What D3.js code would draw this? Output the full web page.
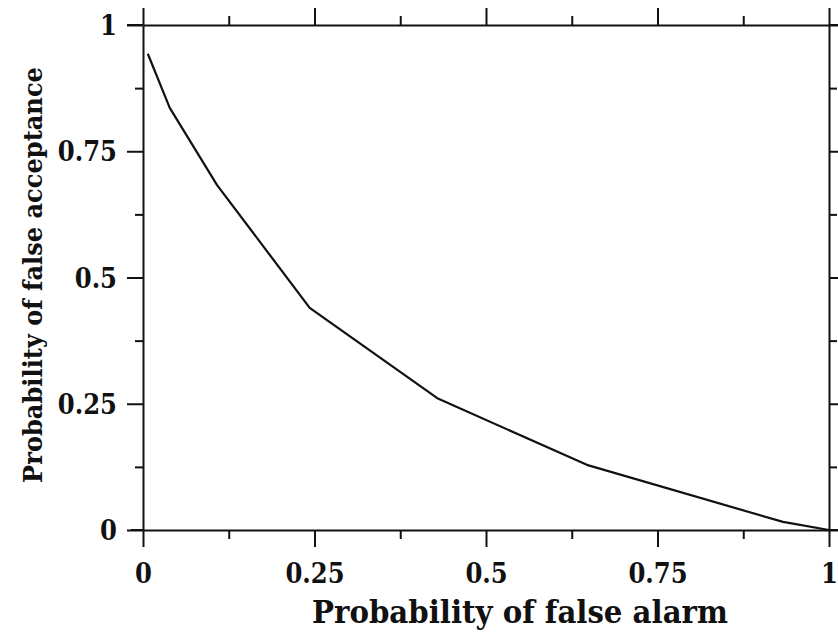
<!DOCTYPE html>
<html>
<head>
<meta charset="utf-8">
<script src="https://cdn.jsdelivr.net/npm/d3@7"></script>
<style>
  html, body { margin: 0; padding: 0; background: #fff; }
  svg { display: block; }
  .lbl { font-family: "DejaVu Serif", "Liberation Serif", serif; font-stretch: condensed; font-weight: bold; fill: #111; }
</style>
</head>
<body>
<svg id="chart" width="838" height="635"></svg>
<script>
// ROC-style trade-off: false alarm vs false acceptance
const falseAlarm      = [0.007, 0.039, 0.108, 0.243, 0.429, 0.647, 0.933, 1.000];
const falseAcceptance = [0.943, 0.836, 0.683, 0.440, 0.261, 0.129, 0.016, 0.000];

const majorTicks = [0, 0.25, 0.5, 0.75, 1];
const minorTicks = [0.125, 0.375, 0.625, 0.875];
const tickLabels = ["0", "0.25", "0.5", "0.75", "1"];

const xTitle = "Probability of false alarm";
const yTitle = "Probability of false acceptance";

const W = 838, H = 635;
const plot = { left: 143, right: 829, top: 25, bottom: 530 };

const svg = d3.select("#chart");
const x = d3.scaleLinear().domain([0, 1]).range([plot.left, plot.right]);
const y = d3.scaleLinear().domain([0, 1]).range([plot.bottom, plot.top]);

const fmt = v => tickLabels[majorTicks.indexOf(v)];

function styleAxis(g) {
  g.selectAll("path.domain").attr("stroke", "#111").attr("stroke-width", 2);
  g.selectAll(".tick line").attr("stroke", "#111").attr("stroke-width", 2);
}

// bottom axis with labels
const gb = svg.append("g").attr("transform", `translate(0,${plot.bottom})`)
  .call(d3.axisBottom(x).tickValues(majorTicks).tickSize(17).tickSizeOuter(0).tickFormat(fmt));
gb.call(styleAxis);
gb.selectAll(".tick text").attr("class", "lbl").attr("font-size", 27)
  .attr("y", 53).attr("dy", 0).attr("fill", "#111");
svg.append("g").attr("transform", `translate(0,${plot.bottom})`)
  .call(d3.axisBottom(x).tickValues(minorTicks).tickSize(9).tickSizeOuter(0).tickFormat(""))
  .call(g => g.select(".domain").remove()).call(styleAxis);

// left axis with labels
const gl = svg.append("g").attr("transform", `translate(${plot.left},0)`)
  .call(d3.axisLeft(y).tickValues(majorTicks).tickSize(16).tickSizeOuter(0).tickFormat(fmt));
gl.call(styleAxis);
gl.selectAll(".tick text").attr("class", "lbl").attr("font-size", 27)
  .attr("x", -26).attr("dy", "0.36em").attr("fill", "#111");
svg.append("g").attr("transform", `translate(${plot.left},0)`)
  .call(d3.axisLeft(y).tickValues(minorTicks).tickSize(8).tickSizeOuter(0).tickFormat(""))
  .call(g => g.select(".domain").remove()).call(styleAxis);

// top axis (ticks only)
svg.append("g").attr("transform", `translate(0,${plot.top})`)
  .call(d3.axisTop(x).tickValues(majorTicks).tickSize(17).tickSizeOuter(0).tickFormat(""))
  .call(styleAxis);
svg.append("g").attr("transform", `translate(0,${plot.top})`)
  .call(d3.axisTop(x).tickValues(minorTicks).tickSize(9).tickSizeOuter(0).tickFormat(""))
  .call(g => g.select(".domain").remove()).call(styleAxis);

// right axis (ticks only)
svg.append("g").attr("transform", `translate(${plot.right},0)`)
  .call(d3.axisRight(y).tickValues(majorTicks).tickSize(16).tickSizeOuter(0).tickFormat(""))
  .call(styleAxis);
svg.append("g").attr("transform", `translate(${plot.right},0)`)
  .call(d3.axisRight(y).tickValues(minorTicks).tickSize(8).tickSizeOuter(0).tickFormat(""))
  .call(g => g.select(".domain").remove()).call(styleAxis);

// corner tick extensions running outward along the frame
svg.append("line").attr("x1", plot.left - 16).attr("x2", plot.left).attr("y1", plot.top).attr("y2", plot.top)
  .attr("stroke", "#111").attr("stroke-width", 2);
svg.append("line").attr("x1", plot.right).attr("x2", W).attr("y1", plot.top).attr("y2", plot.top)
  .attr("stroke", "#111").attr("stroke-width", 2);
svg.append("line").attr("x1", plot.left - 12).attr("x2", plot.left).attr("y1", plot.bottom).attr("y2", plot.bottom)
  .attr("stroke", "#111").attr("stroke-width", 2);
svg.append("line").attr("x1", plot.right).attr("x2", W).attr("y1", plot.bottom).attr("y2", plot.bottom)
  .attr("stroke", "#111").attr("stroke-width", 2);

// the curve
const pts = falseAlarm.map((v, i) => [v, falseAcceptance[i]]);
svg.append("path")
  .datum(pts)
  .attr("fill", "none")
  .attr("stroke", "#111")
  .attr("stroke-width", 2.2)
  .attr("stroke-linejoin", "round")
  .attr("d", d3.line().x(d => x(d[0])).y(d => y(d[1])));

// axis titles, sized to their set widths
function fitText(sel, width, base) {
  sel.attr("font-size", base);
  const w = sel.node().getComputedTextLength();
  sel.attr("font-size", base * width / w);
}
const xt = svg.append("text").attr("class", "lbl").attr("text-anchor", "middle")
  .attr("x", 520).attr("y", 623).text(xTitle);
fitText(xt, 416, 30);

const yt = svg.append("text").attr("class", "lbl").attr("text-anchor", "middle")
  .attr("transform", "translate(42,275) rotate(-90)").text(yTitle);
fitText(yt, 416, 28);
</script>
</body>
</html>
